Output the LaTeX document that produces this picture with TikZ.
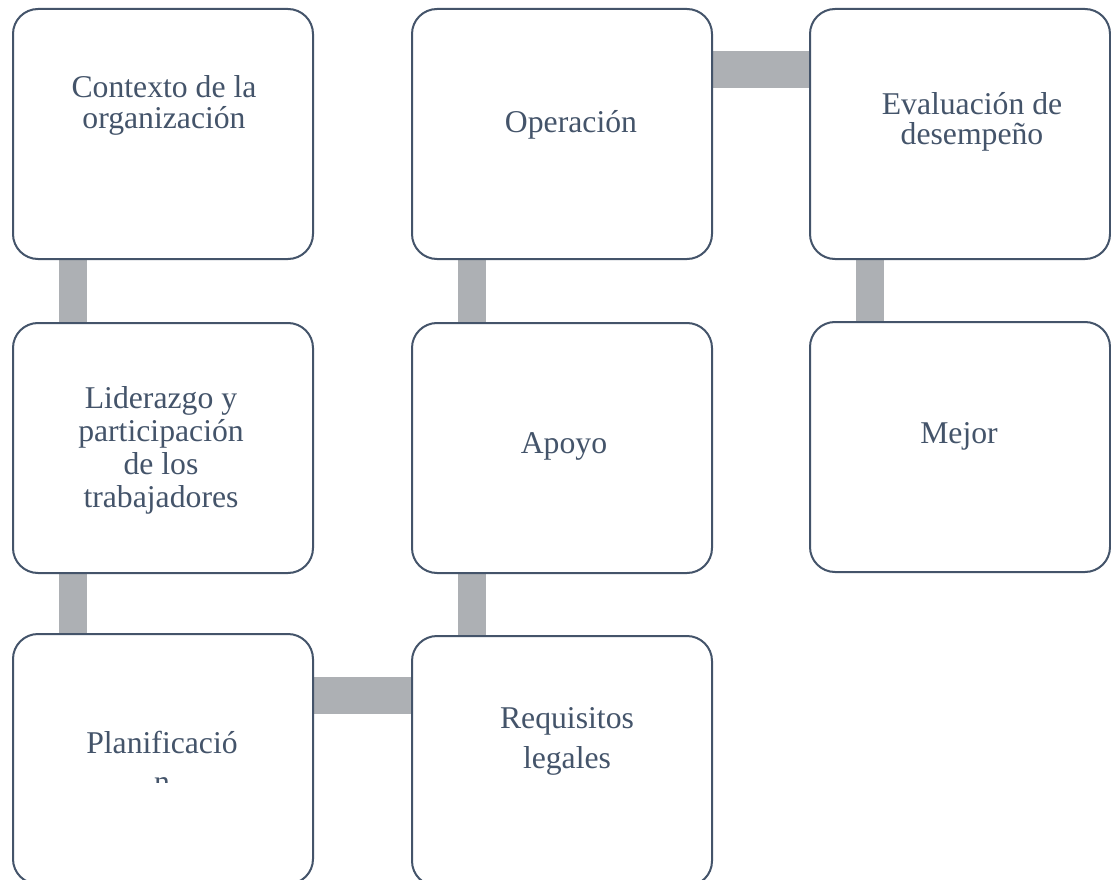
\documentclass[tikz,border=0pt]{standalone}
\usepackage{fontspec}
\setmainfont{Liberation Serif}
\definecolor{txt}{HTML}{44546A}
\definecolor{conn}{RGB}{173,176,180}
\pgfdeclarelayer{bg}
\pgfdeclarelayer{paper}
\pgfsetlayers{paper,bg,main}
\begin{document}
\begin{tikzpicture}[x=1pt,y=-1pt,
  box/.style={draw=txt,line width=2pt,rounded corners=25pt,fill=white,minimum width=300pt,minimum height=250pt,inner sep=0pt,anchor=north west},
  lbl/.style={text=txt,font=\fontsize{31.7}{32}\selectfont,align=center,anchor=base,inner sep=0pt},
  vlink/.style={draw=conn,line width=28pt},
  hlink/.style={draw=conn,line width=37pt}]
\begin{pgfonlayer}{paper}
\fill[white] (0,0) rectangle (1111,880);
\end{pgfonlayer}
\useasboundingbox (0,0) rectangle (1111,880);

\node[box] (A) at (12,8) {};
\node[box] (B) at (12,322) {};
\node[box] (C) at (12,633) {};
\node[box] (D) at (411,635) {};
\node[box] (E) at (411,322) {};
\node[box] (F) at (411,8) {};
\node[box] (G) at (809,8) {};
\node[box] (H) at (809,321) {};

\begin{pgfonlayer}{bg}
\draw[vlink] ([xshift=61pt]A.south west) -- ([xshift=61pt]B.north west);
\draw[vlink] ([xshift=61pt]B.south west) -- ([xshift=61pt]C.north west);
\draw[hlink] ([yshift=-62pt]C.north east) -- ([yshift=-62pt]C.north east -| D.west);
\draw[vlink] ([xshift=61pt]D.north west) -- ([xshift=61pt]E.south west);
\draw[vlink] ([xshift=61pt]E.north west) -- ([xshift=61pt]F.south west);
\draw[hlink] ([yshift=-62pt]F.north east) -- ([yshift=-62pt]F.north east -| G.west);
\draw[vlink] ([xshift=61pt]G.south west) -- ([xshift=61pt]G.south west |- H.north);
\end{pgfonlayer}

\node[lbl,font=\fontsize{31.7}{31.5}\selectfont] (tA) at (164,129) {Contexto de la\\organización};
\node[lbl] (tF) at (571,133) {Operación};
\node[lbl,font=\fontsize{31.7}{30}\selectfont] (tG) at (972,145) {Evaluación de\\desempeño};
\node[lbl,font=\fontsize{31.7}{33}\selectfont] (tB) at (161,507) {Liderazgo y\\participación\\de los\\trabajadores};
\node[lbl] (tE) at (564,453) {Apoyo};
\node[lbl] (tH) at (959,443) {Mejor};
\node[lbl] (tC) at (162,753) {Planificació};
\begin{scope}
\clip (140,776) rectangle (190,782);
\node[lbl] (tC2) at (162,792) {n};
\end{scope}
\node[lbl,font=\fontsize{31.7}{40}\selectfont] (tD) at (567,768) {Requisitos\\legales};
\end{tikzpicture}
\end{document}
